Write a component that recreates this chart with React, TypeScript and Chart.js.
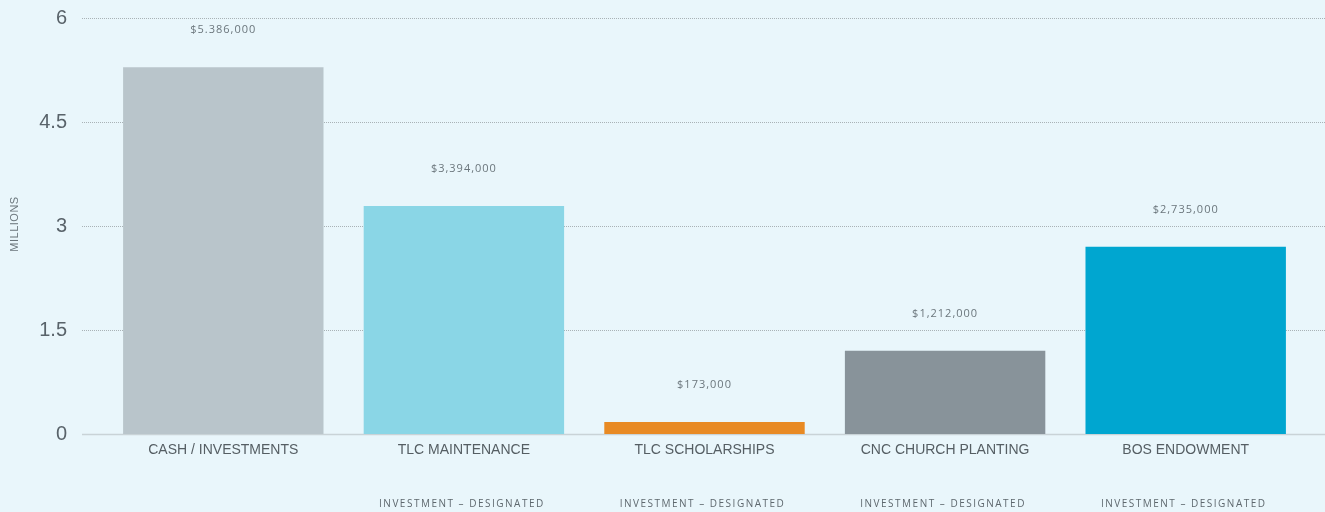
import React, { useEffect, useRef } from "react";
import { Chart, registerables } from "chart.js";

Chart.register(...registerables);

const categories = ["CASH / INVESTMENTS", "TLC MAINTENANCE", "TLC SCHOLARSHIPS", "CNC CHURCH PLANTING", "BOS ENDOWMENT"];
const subLabels = ["", "INVESTMENT – DESIGNATED", "INVESTMENT – DESIGNATED", "INVESTMENT – DESIGNATED", "INVESTMENT – DESIGNATED"];
const barValues = [5.29, 3.29, 0.173, 1.2, 2.7];
const valueLabels = ["$5.386,000", "$3,394,000", "$173,000", "$1,212,000", "$2,735,000"];
const barColors = ["#B9C5CB", "#8AD6E6", "#E88A24", "#88939A", "#00A6D0"];
const yTicks = [0, 1.5, 3, 4.5, 6];

const BG = "#E9F6FB";

const decorPlugin = {
  id: "decor",
  beforeDatasetsDraw(chart: any) {
    const { ctx, scales } = chart;
    const y = scales.y;
    const left = 82;
    const right = chart.width;
    ctx.save();
    y.ticks.forEach((t: any) => {
      const py = Math.round(y.getPixelForValue(t.value)) + 0.5;
      ctx.beginPath();
      if (t.value === 0) {
        ctx.setLineDash([]);
        ctx.strokeStyle = "#C9D3D7";
        ctx.lineWidth = 1.5;
      } else {
        ctx.setLineDash([1, 1]);
        ctx.strokeStyle = "#A9B2B6";
        ctx.lineWidth = 1;
      }
      ctx.moveTo(left, py);
      ctx.lineTo(right, py);
      ctx.stroke();
    });
    ctx.restore();
  },
  afterDatasetsDraw(chart: any) {
    const { ctx, scales } = chart;
    const x = scales.x;
    const y = scales.y;
    ctx.save();
    // value labels
    ctx.font = "11px 'Open Sans', sans-serif";
    (ctx as any).letterSpacing = "1px";
    ctx.fillStyle = "#6B767C";
    ctx.textAlign = "center";
    ctx.textBaseline = "middle";
    barValues.forEach((v, i) => {
      ctx.fillText(valueLabels[i], x.getPixelForValue(i), y.getPixelForValue(v) - 37);
    });
    // sub labels
    ctx.font = "10px 'Open Sans', sans-serif";
    (ctx as any).letterSpacing = "1.5px";
    ctx.fillStyle = "#5E686E";
    subLabels.forEach((s, i) => {
      if (s) ctx.fillText(s, x.getPixelForValue(i) - 2, 504);
    });
    // y title
    (ctx as any).letterSpacing = "0.5px";
    ctx.font = "11px 'Liberation Sans', Arial, sans-serif";
    ctx.fillStyle = "#6B767C";
    ctx.translate(15, 224);
    ctx.rotate(-Math.PI / 2);
    ctx.fillText("MILLIONS", 0, 0);
    ctx.restore();
  },
};

export default function App() {
  const ref = useRef<HTMLCanvasElement>(null);
  useEffect(() => {
    document.body.style.margin = "0";
    document.body.style.background = BG;
    const chart = new Chart(ref.current as HTMLCanvasElement, {
      type: "bar",
      data: {
        labels: categories,
        datasets: [
          {
            data: barValues,
            backgroundColor: barColors,
            borderWidth: 0,
            barPercentage: 0.833,
            categoryPercentage: 1,
          },
        ],
      },
      options: {
        animation: false,
        responsive: false,
        maintainAspectRatio: false,
        layout: { padding: { top: 18, right: 19, left: 0, bottom: 0 } },
        plugins: { legend: { display: false }, tooltip: { enabled: false } },
        scales: {
          x: {
            grid: { display: false, drawTicks: false },
            border: { display: false },
            ticks: {
              color: "#555E63",
              font: { family: "'Liberation Sans', Arial, sans-serif", size: 14 },
              padding: 8,
              maxRotation: 0,
              autoSkip: false,
            },
            afterFit: (s: any) => {
              s.height = 78;
            },
          },
          y: {
            min: 0,
            max: 6,
            afterBuildTicks: (s: any) => {
              s.ticks = yTicks.map((v) => ({ value: v }));
            },
            grid: { display: false, drawTicks: false },
            border: { display: false },
            ticks: {
              color: "#59636A",
              font: { family: "'Liberation Sans', Arial, sans-serif", size: 20 },
              padding: 36,
              callback: (v: any) => String(v),
            },
            afterFit: (s: any) => {
              s.width = 103;
              s.paddingTop = 0;
              s.paddingBottom = 0;
            },
          },
        },
      },
      plugins: [decorPlugin],
    });
    return () => chart.destroy();
  }, []);
  return (
    <div style={{ width: 1325, height: 512, background: BG }}>
      <canvas ref={ref} width={1325} height={512} style={{ display: "block" }} />
    </div>
  );
}
